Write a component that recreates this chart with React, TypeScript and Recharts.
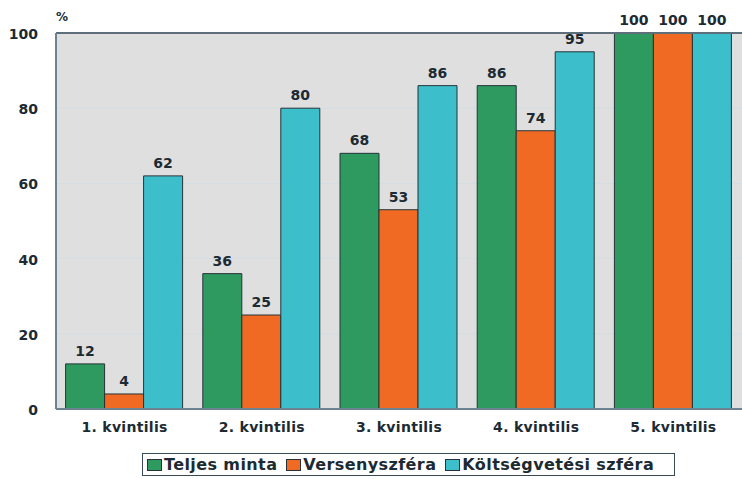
import { BarChart, Bar, XAxis, YAxis, CartesianGrid, LabelList, ReferenceLine } from "recharts";

const categories = ["1. kvintilis", "2. kvintilis", "3. kvintilis", "4. kvintilis", "5. kvintilis"];
const teljes = [12, 36, 68, 86, 100];
const verseny = [4, 25, 53, 74, 100];
const koltseg = [62, 80, 86, 95, 100];
const yTicks = [0, 20, 40, 60, 80, 100];

const series = [
  { key: "teljes", name: "Teljes minta", color: "#2f9a60" },
  { key: "verseny", name: "Versenyszféra", color: "#f06a24" },
  { key: "koltseg", name: "Költségvetési szféra", color: "#3dbfcb" },
];

const data = categories.map((c, i) => ({
  name: c,
  teljes: teljes[i],
  verseny: verseny[i],
  koltseg: koltseg[i],
}));

const font = "Verdana, 'DejaVu Sans', sans-serif";
const ink = "#1c2a33";

export default function App() {
  return (
    <div style={{ position: "absolute", left: 0, top: 0, width: 742, height: 479, background: "#fff", fontFamily: font }}>
      <div style={{ position: "absolute", left: 56, top: 10, fontSize: 12, fontWeight: 700, color: ink }}>%</div>
      <BarChart
        width={742}
        height={479}
        data={data}
        margin={{ top: 33, right: 0, left: 0, bottom: 40 }}
        barCategoryGap="7%"
        barGap={0}
      >
        <CartesianGrid vertical={false} fill="#dfdfdf" stroke="#d3dde2" />
        <XAxis
          dataKey="name"
          height={30}
          tickLine={false}
          axisLine={{ stroke: "#6d8290", strokeWidth: 2 }}
          tick={{ fill: ink, fontSize: 14, fontWeight: 700, fontFamily: font, letterSpacing: 0.3, dy: 5 }}
        />
        <YAxis
          domain={[0, 100]}
          ticks={yTicks}
          width={56}
          tickLine={false}
          axisLine={{ stroke: "#6d8290", strokeWidth: 2 }}
          tick={{ fill: ink, fontSize: 14, fontWeight: 700, fontFamily: font, dx: -10, dy: 1 }}
        />
        <ReferenceLine y={100} stroke="#5d6f7a" strokeWidth={2} />
        {series.map((s) => (
          <Bar key={s.key} dataKey={s.key} name={s.name} fill={s.color} stroke="#263238" strokeWidth={1} isAnimationActive={false}>
            <LabelList dataKey={s.key} position="top" offset={8} fill={ink} fontSize={14} fontWeight={700} fontFamily={font} />
          </Bar>
        ))}
      </BarChart>
      <div
        style={{
          position: "absolute",
          left: 142,
          top: 453,
          width: 533,
          height: 23,
          border: "1px solid #3a4a55",
          display: "flex",
          alignItems: "center",
          gap: 9,
          paddingLeft: 4,
          boxSizing: "border-box",
          fontSize: 16,
          fontWeight: 700,
          letterSpacing: 0.4,
          color: ink,
          whiteSpace: "nowrap",
        }}
      >
        {series.map((s) => (
          <span key={s.key} style={{ display: "flex", alignItems: "center" }}>
            <span style={{ display: "inline-block", width: 13, height: 10, background: s.color, border: "1px solid #263238", marginRight: 2 }} />
            {s.name}
          </span>
        ))}
      </div>
    </div>
  );
}
